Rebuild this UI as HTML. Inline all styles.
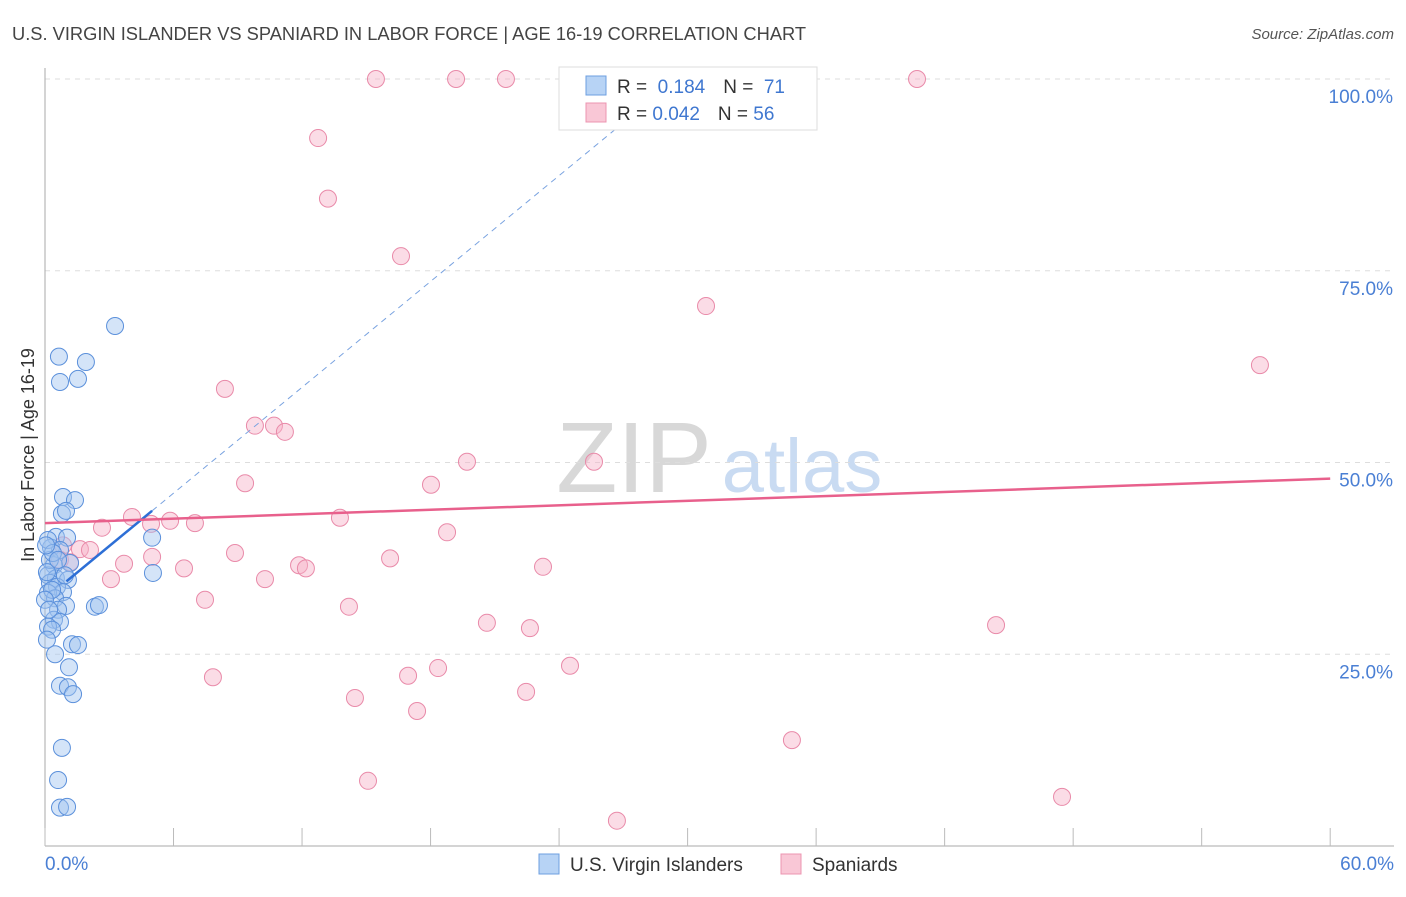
<!DOCTYPE html>
<html><head><meta charset="utf-8"><style>
body{margin:0;background:#fff;font-family:"Liberation Sans",sans-serif}
svg text{font-family:"Liberation Sans",sans-serif}
</style></head><body>
<svg id="chart" width="1406" height="892">
<text x="12" y="40" font-size="18.3" fill="#444">U.S. VIRGIN ISLANDER VS SPANIARD IN LABOR FORCE | AGE 16-19 CORRELATION CHART</text>
<text x="1394" y="39" font-size="15" fill="#555" text-anchor="end" font-style="italic">Source: ZipAtlas.com</text>
<text transform="translate(34,455) rotate(-90)" font-size="18" fill="#333" text-anchor="middle">In Labor Force | Age 16-19</text>
<g>
<text x="634" y="492" font-size="100" fill="#d8d8d8" font-family="Liberation Serif" text-anchor="middle">ZIP</text>
<text x="802" y="492" font-size="76" fill="#c9dbf2" text-anchor="middle">atlas</text>
</g>
<g id="grid"></g><g id="axes"></g><g id="pts"></g><g id="trend"></g>
<g>
<rect x="559" y="67" width="258" height="63" fill="#fff" stroke="#ddd"/>
<rect x="586" y="76" width="20" height="19" fill="#b7d3f5" stroke="#6e9fe0"/>
<rect x="586" y="103" width="20" height="19" fill="#f9c7d6" stroke="#ec94b0"/>
<text x="617" y="93" font-size="19" fill="#333">R = <tspan fill="#3f77d0">&#160;0.184</tspan><tspan dx="18" fill="#333">N = </tspan><tspan fill="#3f77d0">&#160;71</tspan></text>
<text x="617" y="120" font-size="19" fill="#333">R = <tspan fill="#3f77d0">0.042</tspan><tspan dx="18" fill="#333">N = </tspan><tspan fill="#3f77d0">56</tspan></text>
</g>
<g>
<rect x="539" y="854" width="20" height="20" fill="#b7d3f5" stroke="#6e9fe0"/>
<text x="570" y="871" font-size="19" fill="#333">U.S. Virgin Islanders</text>
<rect x="781" y="854" width="20" height="20" fill="#f9c7d6" stroke="#ec94b0"/>
<text x="812" y="871" font-size="19" fill="#333">Spaniards</text>
</g>
</svg>
<script>
const blueX=[3.27,0.65,1.91,0.70,1.54,0.84,1.40,0.79,0.98,0.51,1.03,0.28,0.70,0.14,1.17,0.42,0.14,0.51,1.07,0.23,0.56,0.84,0.14,0.47,0.98,0.61,2.33,2.52,0.42,0.70,0.14,1.26,1.54,0.47,1.12,0.70,1.07,1.31,0.79,0.61,0.70,1.03,5.00,5.04,0.23,0.33,0.0,0.19,0.09,0.37,0.05,0.61,0.93,0.33,0.09];
const blueY=[67.8,63.8,63.1,60.5,60.9,45.5,45.1,43.3,43.7,40.3,40.2,38.9,38.6,39.9,36.9,36.6,35.3,34.9,34.7,34.3,33.8,33.1,33.0,32.3,31.3,30.8,31.2,31.4,29.5,29.2,28.6,26.3,26.2,25.0,23.3,20.9,20.7,19.8,12.8,8.6,5.0,5.1,40.2,35.6,37.3,33.4,32.1,30.8,35.7,38.2,39.2,37.3,35.3,28.2,26.9];
const pinkX=[15.45,19.19,21.52,40.71,12.75,13.21,16.62,30.86,56.72,8.40,9.80,10.69,11.20,19.70,25.63,9.34,18.02,7.00,5.84,4.06,4.95,13.77,18.77,2.66,16.11,8.87,5.00,1.63,2.10,0.84,3.69,6.49,11.86,12.18,23.25,10.27,3.08,7.47,14.19,20.63,22.64,44.40,24.51,18.35,16.95,7.84,22.46,14.47,17.37,34.87,15.08,47.48,26.70,0.70,1.17];
const pinkY=[100,100,100,100,92.3,84.4,76.9,70.4,62.7,59.6,54.8,54.8,54.0,50.1,50.1,47.3,47.1,42.1,42.4,42.9,42.0,42.8,40.9,41.5,37.5,38.2,37.7,38.7,38.6,39.2,36.8,36.2,36.6,36.2,36.4,34.8,34.8,32.1,31.2,29.1,28.4,28.8,23.5,23.2,22.2,22.0,20.1,19.3,17.6,13.8,8.5,6.4,3.3,37.3,37.0];
const yTicks=[25,50,75,100];
const yTickLabels=["25.0%","50.0%","75.0%","100.0%"];
const blueTrend=[32.2,2.3]; // intercept, slope
const pinkTrend=[42.1,47.9]; // y at 0 and 60
const NS="http://www.w3.org/2000/svg";
const sx=v=>45+v*21.42, sy=v=>846-v*7.67;
function mk(tag,attrs,parent){const e=document.createElementNS(NS,tag);for(const k in attrs)e.setAttribute(k,attrs[k]);document.getElementById(parent).appendChild(e);return e;}
yTicks.forEach((t,i)=>{
 const g=mk('line',{x1:45,x2:1394,y1:sy(t),y2:sy(t),stroke:'#ddd','stroke-dasharray':'5,5'},'grid');
 
 
 const l=mk('text',{x:1393,y:sy(t)+24,'font-size':19,fill:'#4a7fd4','text-anchor':'end'},'axes');
 l.textContent=yTickLabels[i];
 
 
});
mk('line',{x1:45,x2:45,y1:68,y2:846,stroke:'#aaa'},'axes');
mk('line',{x1:45,x2:1394,y1:846,y2:846,stroke:'#aaa'},'axes');
for(let i=0;i<=10;i++){mk('line',{x1:sx(i*6),x2:sx(i*6),y1:828,y2:846,stroke:'#bbb'},'axes');}
const x0=mk('text',{x:45,y:870,'font-size':19,fill:'#4a7fd4'},'axes');x0.textContent='0.0%';


const x1=mk('text',{x:1394,y:870,'font-size':19,fill:'#4a7fd4','text-anchor':'end'},'axes');x1.textContent='60.0%';


pinkX.forEach((x,i)=>{const c=mk('circle',{cx:sx(x),cy:sy(pinkY[i]),r:8.5,fill:'rgba(246,178,200,0.45)',stroke:'#e98aa9','stroke-width':1},'pts');
 
 });
blueX.forEach((x,i)=>{const c=mk('circle',{cx:sx(x),cy:sy(blueY[i]),r:8.5,fill:'rgba(160,196,240,0.45)',stroke:'#5b90db','stroke-width':1},'pts');
 
 });
const by=x=>blueTrend[0]+blueTrend[1]*x;
const xEnd=(93.4-blueTrend[0])/blueTrend[1];
const bd=mk('line',{x1:sx(5),y1:sy(by(5)),x2:sx(xEnd),y2:sy(by(xEnd)),stroke:'#7aa3e0','stroke-dasharray':'6,5','stroke-width':1},'trend');


const bs=mk('line',{x1:sx(1),y1:sy(by(1)),x2:sx(5),y2:sy(by(5)),stroke:'#2d6fd6','stroke-width':2.5},'trend');


const pl=mk('line',{x1:sx(0),y1:sy(pinkTrend[0]),x2:sx(60),y2:sy(pinkTrend[1]),stroke:'#e8608c','stroke-width':2.5},'trend');


</script>
</body></html>
